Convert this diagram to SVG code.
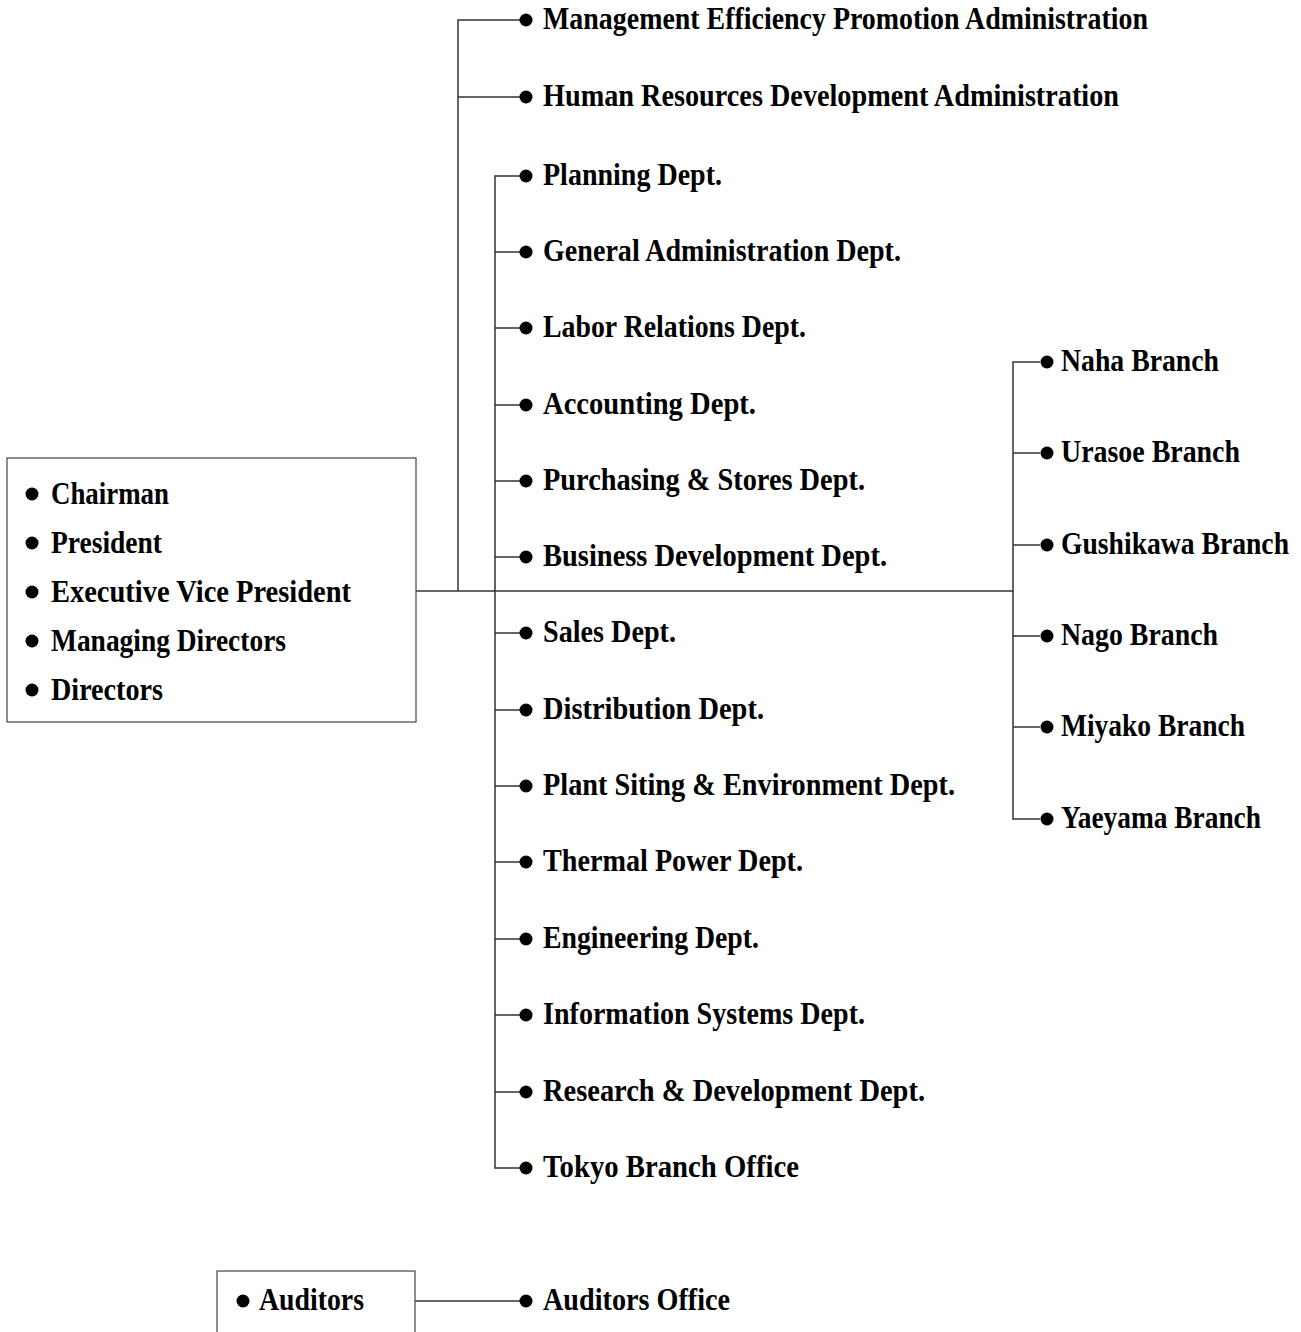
<svg xmlns="http://www.w3.org/2000/svg" width="1301" height="1332" viewBox="0 0 1301 1332">
<style>
.t{font-family:"Liberation Serif","Times New Roman",serif;font-weight:bold;font-size:31px;fill:#000}
.c{fill:none;stroke:#333;stroke-width:1.5}
.b{fill:none;stroke:#444;stroke-width:1.2}
.d{fill:#000}
</style>
<rect width="1301" height="1332" fill="#fff"/>
<g id="connectors">
<path class="c" d="M458 591V20H520M458 97H520"/>
<path class="c" d="M416 591H1013"/>
<path class="c" d="M520 176H495V1168H520M495 252H520M495 328H520M495 405H520M495 481H520M495 557H520M495 633H520M495 710H520M495 786H520M495 862H520M495 939H520M495 1015H520M495 1092H520"/>
<path class="c" d="M1040 362H1013V819H1040M1013 453H1040M1013 545H1040M1013 636H1040M1013 727H1040"/>
<path class="c" d="M415 1301H520"/>
</g>
<g id="board">
<rect class="b" x="7" y="458" width="409" height="264"/>
<circle class="d" cx="32" cy="494" r="6.5"/><text class="t" x="51" y="504" textLength="118" lengthAdjust="spacingAndGlyphs">Chairman</text>
<circle class="d" cx="32" cy="543" r="6.5"/><text class="t" x="51" y="553" textLength="111" lengthAdjust="spacingAndGlyphs">President</text>
<circle class="d" cx="32" cy="592" r="6.5"/><text class="t" x="51" y="602" textLength="300" lengthAdjust="spacingAndGlyphs">Executive Vice President</text>
<circle class="d" cx="32" cy="641" r="6.5"/><text class="t" x="51" y="651" textLength="235" lengthAdjust="spacingAndGlyphs">Managing Directors</text>
<circle class="d" cx="32" cy="690" r="6.5"/><text class="t" x="51" y="700" textLength="112" lengthAdjust="spacingAndGlyphs">Directors</text>
</g>
<g id="n1"><circle class="d" cx="526" cy="20" r="6.5"/><text class="t" x="543" y="29" textLength="605" lengthAdjust="spacingAndGlyphs">Management Efficiency Promotion Administration</text></g>
<g id="n2"><circle class="d" cx="526" cy="97" r="6.5"/><text class="t" x="543" y="106" textLength="576" lengthAdjust="spacingAndGlyphs">Human Resources Development Administration</text></g>
<g id="n3"><circle class="d" cx="526" cy="176" r="6.5"/><text class="t" x="543" y="185" textLength="179" lengthAdjust="spacingAndGlyphs">Planning Dept.</text></g>
<g id="n4"><circle class="d" cx="526" cy="252" r="6.5"/><text class="t" x="543" y="261" textLength="358" lengthAdjust="spacingAndGlyphs">General Administration Dept.</text></g>
<g id="n5"><circle class="d" cx="526" cy="328" r="6.5"/><text class="t" x="543" y="337" textLength="263" lengthAdjust="spacingAndGlyphs">Labor Relations Dept.</text></g>
<g id="n6"><circle class="d" cx="526" cy="405" r="6.5"/><text class="t" x="543" y="414" textLength="213" lengthAdjust="spacingAndGlyphs">Accounting Dept.</text></g>
<g id="n7"><circle class="d" cx="526" cy="481" r="6.5"/><text class="t" x="543" y="490" textLength="322" lengthAdjust="spacingAndGlyphs">Purchasing &amp; Stores Dept.</text></g>
<g id="n8"><circle class="d" cx="526" cy="557" r="6.5"/><text class="t" x="543" y="566" textLength="344" lengthAdjust="spacingAndGlyphs">Business Development Dept.</text></g>
<g id="n9"><circle class="d" cx="526" cy="633" r="6.5"/><text class="t" x="543" y="642" textLength="133" lengthAdjust="spacingAndGlyphs">Sales Dept.</text></g>
<g id="n10"><circle class="d" cx="526" cy="710" r="6.5"/><text class="t" x="543" y="719" textLength="221" lengthAdjust="spacingAndGlyphs">Distribution Dept.</text></g>
<g id="n11"><circle class="d" cx="526" cy="786" r="6.5"/><text class="t" x="543" y="795" textLength="412" lengthAdjust="spacingAndGlyphs">Plant Siting &amp; Environment Dept.</text></g>
<g id="n12"><circle class="d" cx="526" cy="862" r="6.5"/><text class="t" x="543" y="871" textLength="260" lengthAdjust="spacingAndGlyphs">Thermal Power Dept.</text></g>
<g id="n13"><circle class="d" cx="526" cy="939" r="6.5"/><text class="t" x="543" y="948" textLength="216" lengthAdjust="spacingAndGlyphs">Engineering Dept.</text></g>
<g id="n14"><circle class="d" cx="526" cy="1015" r="6.5"/><text class="t" x="543" y="1024" textLength="322" lengthAdjust="spacingAndGlyphs">Information Systems Dept.</text></g>
<g id="n15"><circle class="d" cx="526" cy="1092" r="6.5"/><text class="t" x="543" y="1101" textLength="382" lengthAdjust="spacingAndGlyphs">Research &amp; Development Dept.</text></g>
<g id="n16"><circle class="d" cx="526" cy="1168" r="6.5"/><text class="t" x="543" y="1177" textLength="256" lengthAdjust="spacingAndGlyphs">Tokyo Branch Office</text></g>
<g id="b1"><circle class="d" cx="1047" cy="362" r="6.5"/><text class="t" x="1061" y="371" textLength="158" lengthAdjust="spacingAndGlyphs">Naha Branch</text></g>
<g id="b2"><circle class="d" cx="1047" cy="453" r="6.5"/><text class="t" x="1061" y="462" textLength="179" lengthAdjust="spacingAndGlyphs">Urasoe Branch</text></g>
<g id="b3"><circle class="d" cx="1047" cy="545" r="6.5"/><text class="t" x="1061" y="554" textLength="228" lengthAdjust="spacingAndGlyphs">Gushikawa Branch</text></g>
<g id="b4"><circle class="d" cx="1047" cy="636" r="6.5"/><text class="t" x="1061" y="645" textLength="157" lengthAdjust="spacingAndGlyphs">Nago Branch</text></g>
<g id="b5"><circle class="d" cx="1047" cy="727" r="6.5"/><text class="t" x="1061" y="736" textLength="184" lengthAdjust="spacingAndGlyphs">Miyako Branch</text></g>
<g id="b6"><circle class="d" cx="1047" cy="819" r="6.5"/><text class="t" x="1061" y="828" textLength="200" lengthAdjust="spacingAndGlyphs">Yaeyama Branch</text></g>
<g id="auditors">
<rect class="b" x="217" y="1271" width="198" height="80"/>
<circle class="d" cx="243" cy="1301" r="6.5"/><text class="t" x="259" y="1310" textLength="105" lengthAdjust="spacingAndGlyphs">Auditors</text>
</g>
<g id="auditors-office"><circle class="d" cx="526" cy="1301" r="6.5"/><text class="t" x="543" y="1310" textLength="187" lengthAdjust="spacingAndGlyphs">Auditors Office</text></g>
</svg>
